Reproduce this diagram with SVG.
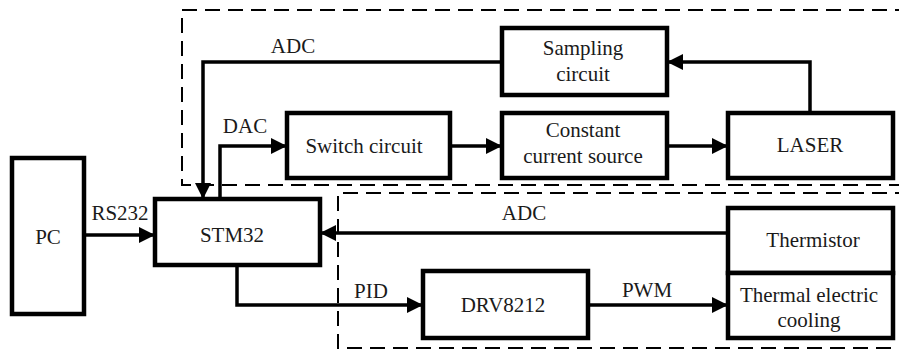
<svg xmlns="http://www.w3.org/2000/svg" width="899" height="351" viewBox="0 0 899 351" font-family="Liberation Serif, DejaVu Serif, serif">
<style>
.box{fill:#fff;stroke:#000;stroke-width:4.5}
.dash{fill:none;stroke:#000;stroke-width:2;stroke-dasharray:15 8}
.wire{fill:none;stroke:#000;stroke-width:3.5}
.t{font-size:21px;fill:#1a1a1a;text-anchor:middle}
</style>
<defs>
<marker id="ah" markerUnits="userSpaceOnUse" markerWidth="17" markerHeight="16" refX="16" refY="8" orient="auto">
<path d="M0,0 L16,8 L0,16 z" fill="#000"/>
</marker>
</defs>
<rect width="899" height="351" fill="#fff"/>
<g id="groups">
<path class="dash" d="M910,10 H182 V185 H910"/>
<path class="dash" d="M910,193 H338 V348 H910"/>
</g>
<g id="connectors">
<path class="wire" d="M84,235 H155" marker-end="url(#ah)"/>
<path class="wire" d="M502,62 H203 V199" marker-end="url(#ah)"/>
<path class="wire" d="M220,199 V146 H287" marker-end="url(#ah)"/>
<path class="wire" d="M450,146 H502" marker-end="url(#ah)"/>
<path class="wire" d="M667,146 H728" marker-end="url(#ah)"/>
<path class="wire" d="M810,113 V62 H667" marker-end="url(#ah)"/>
<path class="wire" d="M728,233 H320" marker-end="url(#ah)"/>
<path class="wire" d="M237,265 V305 H423" marker-end="url(#ah)"/>
<path class="wire" d="M588,305 H728" marker-end="url(#ah)"/>
<text class="t" x="120" y="220" font-family="Liberation Serif">RS232</text>
<text class="t" x="293" y="53">ADC</text>
<text class="t" x="245" y="133">DAC</text>
<text class="t" x="524" y="220">ADC</text>
<text class="t" x="371" y="298">PID</text>
<text class="t" x="647" y="297">PWM</text>
</g>
<g id="pc"><rect class="box" x="12" y="158" width="72" height="156"/><text class="t" x="48" y="244">PC</text></g>
<g id="stm32"><rect class="box" x="155" y="199" width="165" height="66"/><text class="t" x="232" y="242">STM32</text></g>
<g id="switch"><rect class="box" x="287" y="113" width="163" height="65"/><text class="t" x="364" y="153">Switch circuit</text></g>
<g id="constant"><rect class="box" x="502" y="113" width="165" height="65"/><text class="t" x="583" y="137">Constant</text><text class="t" x="583" y="163">current source</text></g>
<g id="laser"><rect class="box" x="728" y="113" width="165" height="65"/><text class="t" x="810" y="152">LASER</text></g>
<g id="sampling"><rect class="box" x="502" y="28" width="165" height="67"/><text class="t" x="583" y="55">Sampling</text><text class="t" x="583" y="81">circuit</text></g>
<g id="thermistor"><rect class="box" x="728" y="208" width="165" height="65"/><text class="t" x="813" y="247">Thermistor</text></g>
<g id="tec"><rect class="box" x="728" y="273" width="165" height="65"/><text class="t" x="809" y="302">Thermal electric</text><text class="t" x="809" y="327">cooling</text></g>
<g id="drv"><rect class="box" x="423" y="271" width="165" height="67"/><text class="t" x="503" y="312">DRV8212</text></g>
</svg>
